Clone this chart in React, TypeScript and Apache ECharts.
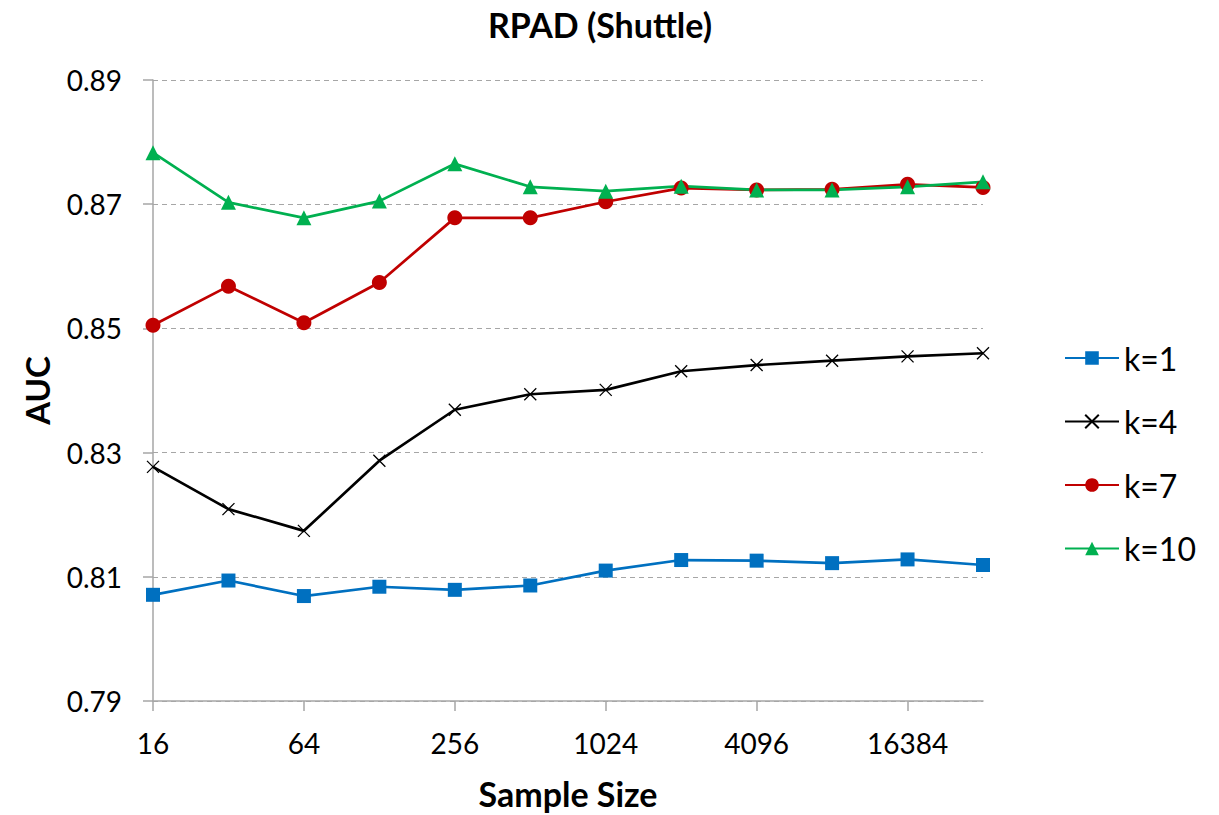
import React, { useEffect, useRef } from "react";
import * as echarts from "echarts";

const sampleSizes = ["16", "32", "64", "128", "256", "512", "1024", "2048", "4096", "8192", "16384", "32768"];
const k1 = [0.8071, 0.8094, 0.8069, 0.8084, 0.8079, 0.8086, 0.811, 0.8127, 0.8126, 0.8122, 0.8128, 0.8119];
const k4 = [0.8277, 0.8209, 0.8174, 0.8287, 0.8369, 0.8394, 0.8401, 0.8431, 0.8441, 0.8448, 0.8455, 0.846];
const k7 = [0.8505, 0.8568, 0.8509, 0.8574, 0.8678, 0.8678, 0.8704, 0.8726, 0.8723, 0.8724, 0.8732, 0.8727];
const k10 = [0.8783, 0.8703, 0.8678, 0.8705, 0.8765, 0.8728, 0.8721, 0.8729, 0.8723, 0.8723, 0.8728, 0.8736];
const yMin = 0.79;
const yMax = 0.89;
const yStep = 0.02;

const FONT = "Lato, 'Open Sans', sans-serif";
const X_PATH = "path://M0,0L10,10M10,0L0,10";

export default function App() {
  const ref = useRef<HTMLDivElement>(null);
  useEffect(() => {
    if (!ref.current) return;
    const chart = echarts.init(ref.current, undefined, { renderer: "svg" });
    const mk = (name: string, data: number[], color: string, symbol: string, size: number, extra: any = {}) => ({
      name,
      type: "line",
      data,
      symbol,
      symbolSize: size,
      lineStyle: { color, width: 2.7 },
      itemStyle: { color, ...extra },
      emphasis: { disabled: true },
    });
    chart.setOption({
      animation: false,
      textStyle: { fontFamily: FONT },
      graphic: [
        {
          type: "text",
          x: 600,
          y: 24,
          style: {
            text: "RPAD (Shuttle)",
            font: `bold 34px ${FONT}`,
            fill: "#000",
            textAlign: "center",
            textVerticalAlign: "middle",
          },
        },
      ],
      grid: { left: 153, right: 236, top: 80, bottom: 110, containLabel: false },
      legend: {
        orient: "vertical",
        left: 1064,
        top: 342,
        padding: 0,
        itemWidth: 54,
        itemHeight: 17,
        itemGap: 31.5,
        textStyle: { fontSize: 32, lineHeight: 30, color: "#000", fontFamily: FONT },
        data: ["k=1", "k=4", "k=7", "k=10"],
      },
      xAxis: {
        type: "category",
        data: sampleSizes,
        boundaryGap: false,
        name: "Sample Size",
        nameLocation: "middle",
        nameGap: 75,
        nameTextStyle: { fontSize: 34, fontWeight: "bold", color: "#000", fontFamily: FONT },
        axisLine: { lineStyle: { color: "#a6a6a6", width: 1.5 } },
        axisTick: { show: true, interval: 1, length: 10, lineStyle: { color: "#a6a6a6", width: 1.5 } },
        axisLabel: { interval: 1, fontSize: 28, margin: 28, color: "#000", fontFamily: FONT },
        splitLine: { show: false },
      },
      yAxis: {
        type: "value",
        min: yMin,
        max: yMax,
        interval: yStep,
        name: "AUC",
        nameLocation: "middle",
        nameGap: 100,
        nameRotate: 90,
        nameTextStyle: { fontSize: 33, fontWeight: "bold", color: "#000", fontFamily: FONT },
        axisLine: { show: true, lineStyle: { color: "#a6a6a6", width: 1.5 } },
        axisTick: { show: true, length: 10, lineStyle: { color: "#a6a6a6", width: 1.5 } },
        axisLabel: {
          fontSize: 28,
          margin: 31,
          color: "#000",
          fontFamily: FONT,
          formatter: (v: number) => v.toFixed(2),
        },
        splitLine: { show: true, lineStyle: { color: "#a6a6a6", type: [5, 4], width: 1.2 } },
      },
      series: [
        mk("k=1", k1, "#0070C0", "rect", 14),
        mk("k=4", k4, "#000000", X_PATH, 12, { borderColor: "#000", borderWidth: 1.3, color: "#000" }),
        mk("k=7", k7, "#C00000", "circle", 15),
        mk("k=10", k10, "#00B050", "triangle", 15),
      ],
    });
    return () => chart.dispose();
  }, []);
  return (
    <div
      ref={ref}
      style={{ position: "fixed", left: 0, top: 0, width: 1219, height: 815, background: "#fff" }}
    />
  );
}
